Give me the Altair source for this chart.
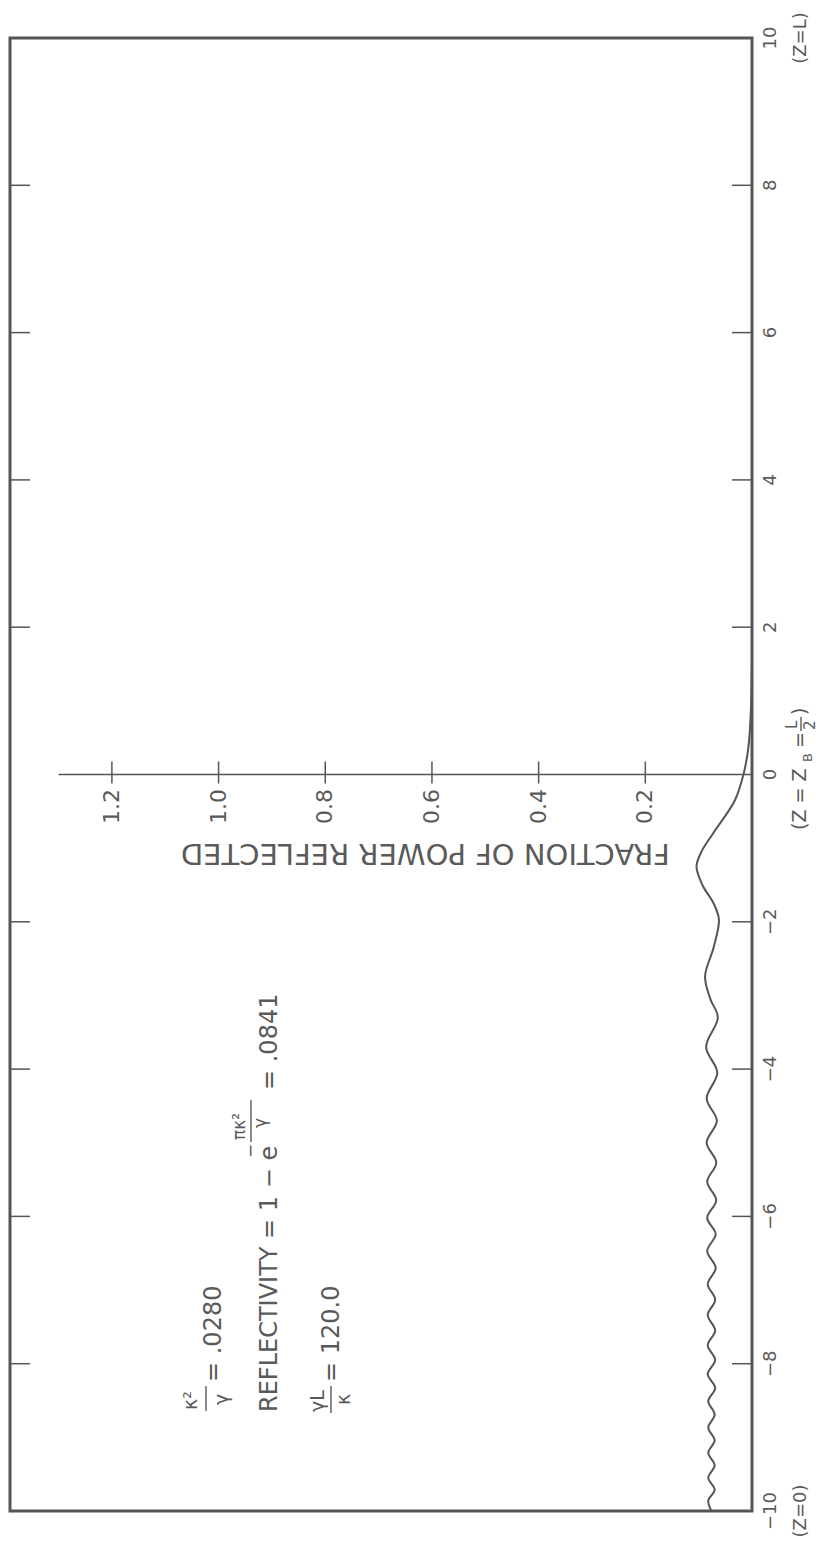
import altair as alt
import pandas as pd

# Reflected power fraction versus position Z along the grating
Z_PTS = [1.5, 1.0, 0.6, 0.3, 0.0, -0.35, -0.8, -1.05, -1.25, -1.5, -1.75, -1.97,
         -2.35, -2.74, -3.05, -3.30, -3.70, -4.05, -4.40, -4.70, -5.00, -5.27,
         -5.53, -5.78, -6.02, -6.24, -6.47, -6.70, -6.92, -7.13, -7.34, -7.55,
         -7.75, -7.95, -8.14, -8.33, -8.51, -8.69, -8.87, -9.04, -9.21, -9.38,
         -9.55, -9.71, -9.86, -10.0]
R_PTS = [0.0, 0.0015, 0.004, 0.008, 0.016, 0.032, 0.073, 0.095, 0.104, 0.093, 0.072, 0.062,
         0.072, 0.088, 0.078, 0.064, 0.086, 0.065, 0.085, 0.066, 0.085, 0.067,
         0.084, 0.067, 0.084, 0.068, 0.084, 0.068, 0.083, 0.069, 0.083, 0.069,
         0.083, 0.069, 0.083, 0.069, 0.082, 0.070, 0.082, 0.070, 0.082, 0.070,
         0.082, 0.070, 0.082, 0.076]

Z_TICKS = [-10, -8, -6, -4, -2, 0, 2, 4, 6, 8, 10]
Z_TICK_LABELS = ["\u221210", "\u22128", "\u22126", "\u22124", "\u22122", "0", "2", "4", "6", "8", "10"]
Z_INNER_TICKS = [-8, -6, -4, -2, 2, 4, 6, 8]
R_TICKS = [0.2, 0.4, 0.6, 0.8, 1.0, 1.2]
R_TICK_LABELS = ["0.2", "0.4", "0.6", "0.8", "1.0", "1.2"]

R_MAX = 1.391
INK = "#555555"
TXT = "#5a5a5a"
FONT = "DejaVu Sans"
PAD_L, PAD_T = 10, 38

xs = alt.Scale(domain=[0, R_MAX], reverse=True)
ys = alt.Scale(domain=[-10, 10])


def X(f):
    return alt.X(f, type="quantitative", scale=xs, axis=None)


def Y(f):
    return alt.Y(f, type="quantitative", scale=ys, axis=None)


def page_text(df):
    """Rotated text pieces placed at page pixel anchors, reading upward."""
    return alt.Chart(df).mark_text(
        angle=270, align="left", baseline="middle", font=FONT, color=TXT
    ).encode(
        x=alt.X("xp:Q", scale=None, axis=None),
        y=alt.Y("yp:Q", scale=None, axis=None),
        text="t:N", size=alt.Size("s:Q", scale=None, legend=None),
    ).transform_calculate(xp=f"datum.x - {PAD_L}", yp=f"datum.y - {PAD_T}")


def page_bars(df):
    """Fraction bars of the rotated formulas."""
    return alt.Chart(df).mark_rule(color=TXT, strokeWidth=1.4).encode(
        x=alt.X("xp:Q", scale=None, axis=None),
        y=alt.Y("y1p:Q", scale=None, axis=None), y2="y2p:Q",
    ).transform_calculate(xp=f"datum.x - {PAD_L}", y1p=f"datum.y1 - {PAD_T}",
                          y2p=f"datum.y2 - {PAD_T}")


curve = alt.Chart(pd.DataFrame({"z": Z_PTS, "r": R_PTS})).mark_line(
    color=INK, strokeWidth=2, interpolate="catmull-rom"
).encode(x=X("r"), y=Y("z"), order=alt.Order("z:Q"))

# horizontal axis line through Z = 0 carrying the fraction scale
r_axis = alt.Chart(pd.DataFrame({"r": [0.0], "r2": [1.30], "z": [0.0]})).mark_rule(
    color=INK, strokeWidth=1.5
).encode(x=X("r"), x2="r2", y=Y("z"))

r_ticks = alt.Chart(pd.DataFrame({"r": R_TICKS})).mark_rule(
    color=INK, strokeWidth=1.5
).encode(x=X("r"), y=alt.value(772.5 - PAD_T - 11), y2=alt.value(772.5 - PAD_T + 11))

r_labels = alt.Chart(pd.DataFrame({"r": R_TICKS, "t": R_TICK_LABELS})).mark_text(
    angle=270, align="right", baseline="middle", font=FONT, fontSize=22, color=TXT
).encode(x=X("r"), y=alt.value(789 - PAD_T), text="t:N")

# axis title, upside down, starting just left of the curve
r_title = alt.Chart(pd.DataFrame({"r": [0.154], "t": ["FRACTION OF POWER REFLECTED"]})).mark_text(
    angle=180, align="left", baseline="middle", font=FONT, fontSize=29, color=TXT
).encode(x=X("r"), y=alt.value(853 - PAD_T), text="t:N")

z_ticks_right = alt.Chart(pd.DataFrame({"z": Z_INNER_TICKS})).mark_rule(
    color=INK, strokeWidth=1.5
).encode(y=Y("z"), x=alt.value(742 - 20), x2=alt.value(742))

z_ticks_left = alt.Chart(pd.DataFrame({"z": Z_INNER_TICKS})).mark_rule(
    color=INK, strokeWidth=1.5
).encode(y=Y("z"), x=alt.value(0), x2=alt.value(20))

z_labels = alt.Chart(pd.DataFrame({"z": Z_TICKS, "t": Z_TICK_LABELS})).mark_text(
    angle=270, align="center", baseline="middle", font=FONT, fontSize=18, color=TXT
).encode(y=Y("z"), x=alt.value(771 - PAD_L), text="t:N")

z_notes = alt.Chart(pd.DataFrame({"z": [-10, 10], "t": ["(Z=0)", "(Z=L)"]})).mark_text(
    angle=270, align="center", baseline="middle", font=FONT, fontSize=18, color=TXT
).encode(y=Y("z"), x=alt.value(801 - PAD_L), text="t:N")

# (Z = Z_B = L/2) under the origin
mid_note = page_text(pd.DataFrame({
    "t": ["(Z = Z", "B", "=", "L", "2", ")"],
    "x": [800, 808, 800, 792, 810, 800],
    "y": [830, 762, 748, 729, 730, 715],
    "s": [19, 13, 19, 15, 15, 19],
}))
mid_bar = page_bars(pd.DataFrame({"x": [801], "y1": [731], "y2": [717]}))

# Parameter annotations
ann_text = page_text(pd.DataFrame({
    "t": ["\u03ba\u00b2", "\u03b3", "= .0280",
          "REFLECTIVITY = 1 \u2212 e", "\u2212", "\u03c0\u03ba\u00b2", "\u03b3", "= .0841",
          "\u03b3L", "\u03ba", "= 120.0"],
    "x": [191, 222, 214,
          270, 251, 240, 261, 270,
          318, 344, 332],
    "y": [1410, 1405, 1382,
          1412, 1158, 1140, 1128, 1090,
          1412, 1405, 1382],
    "s": [19, 19, 24,
          24, 17, 17, 17, 24,
          19, 19, 24],
}))
ann_bars = page_bars(pd.DataFrame({"x": [206, 251, 331],
                                   "y1": [1411, 1142, 1413],
                                   "y2": [1386, 1100, 1386]}))

chart = alt.layer(
    r_axis, r_ticks, z_ticks_right, z_ticks_left, curve,
    r_labels, r_title, z_labels, z_notes, mid_note, mid_bar, ann_text, ann_bars,
).properties(
    width=742, height=1473,
    padding={"left": PAD_L, "top": PAD_T, "right": 77, "bottom": 30},
    autosize=alt.AutoSizeParams(type="none"),
    background="white",
).configure_view(stroke=INK, strokeWidth=3)

chart.save("out.html", embed_options={"renderer": "svg", "actions": False})
